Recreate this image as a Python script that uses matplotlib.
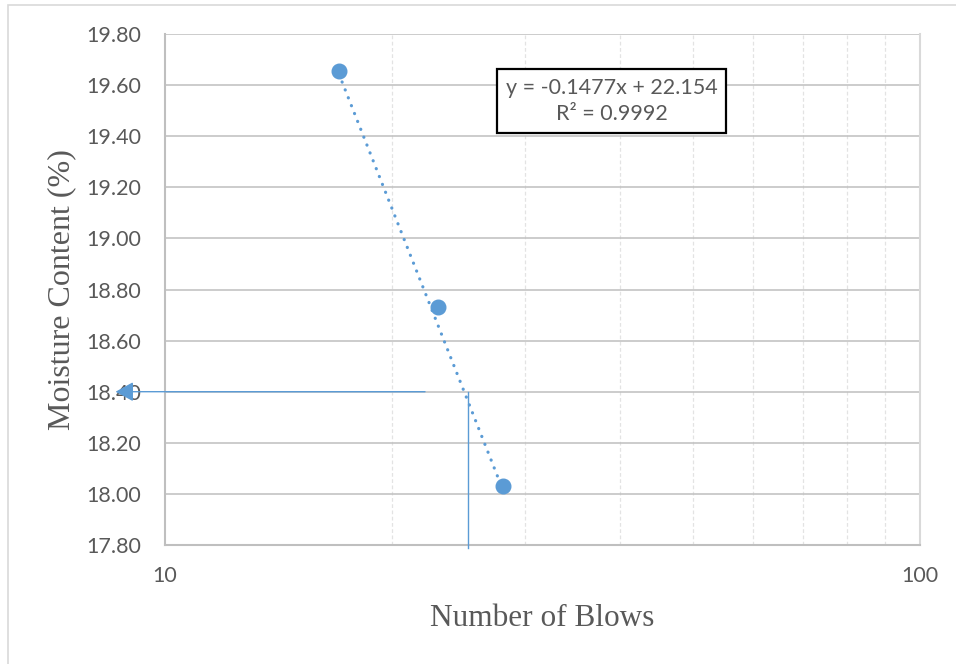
import matplotlib.pyplot as plt
from matplotlib.patches import Rectangle
from matplotlib.ticker import FixedLocator, NullFormatter, FuncFormatter

BLUE = "#5B9BD5"
GREY_TEXT = "#595959"

blows = [17, 23, 28]
moisture = [19.655, 18.73, 18.03]

slope = -0.1477
intercept = 22.154
trend_x = [17, 28]
trend_y = [slope * x + intercept for x in trend_x]

# reading of the liquid limit at 25 blows
target_mc = 18.40
target_blows = 25.2
arrow_from = 22.1
arrow_to = 8.6

y_ticks = [17.8, 18.0, 18.2, 18.4, 18.6, 18.8, 19.0, 19.2, 19.4, 19.6, 19.8]
x_ticks = [10, 100]
x_minor = [20, 30, 40, 50, 60, 70, 80, 90]

fig = plt.figure(figsize=(9.56, 6.64), dpi=100)
ax = fig.add_axes([165 / 956, 1 - 545 / 664, 755 / 956, 511 / 664])

# outer chart-area border (only top/left visible in the crop)
fig.patches.append(Rectangle((8 / 956, -0.1), 1.2, 1 - 5 / 664 + 0.1,
                             transform=fig.transFigure, fill=False,
                             edgecolor="#D9D9D9", linewidth=1.2))

ax.set_xscale("log")
ax.set_xlim(10, 100)
ax.set_ylim(17.8, 19.8)

ax.xaxis.set_major_locator(FixedLocator(x_ticks))
ax.xaxis.set_minor_locator(FixedLocator(x_minor))
ax.xaxis.set_major_formatter(FuncFormatter(lambda v, p: "%d" % v))
ax.xaxis.set_minor_formatter(NullFormatter())
ax.set_yticks(y_ticks)
ax.yaxis.set_major_formatter(FuncFormatter(lambda v, p: "%.2f" % v))

ax.grid(True, which="major", axis="y", color="#BFBFBF", linewidth=1.1)
ax.grid(True, which="major", axis="x", color="#D9D9D9", linewidth=1.1)
ax.grid(True, which="minor", axis="x", color="#E3E3E3", linewidth=0.9,
        linestyle=(0, (3, 2)))
ax.set_axisbelow(True)

for side in ["left", "bottom"]:
    ax.spines[side].set_color("#BFBFBF")
    ax.spines[side].set_linewidth(1.5)
ax.spines["right"].set_color("#D9D9D9")
ax.spines["right"].set_linewidth(1.5)
ax.spines["top"].set_visible(False)

ax.tick_params(which="both", length=0, labelsize=15.5, labelcolor=GREY_TEXT,
               labelfontfamily="Lato")
ax.tick_params(axis="y", pad=17)
ax.tick_params(axis="x", pad=15)

ax.plot(trend_x, trend_y, color=BLUE, linewidth=2.3,
        linestyle=(0, (0.05, 2.6)), dash_capstyle="round", zorder=3)
ax.plot(blows, moisture, "o", color=BLUE, markersize=10.5, zorder=4)

# lines for the 25 blow reading
ax.plot([target_blows, target_blows], [target_mc, 17.79], color=BLUE,
        linewidth=1.0, clip_on=False, zorder=3)
arrow = ax.annotate("", xy=(arrow_to, target_mc), xytext=(arrow_from, target_mc),
                    xycoords="data", textcoords="data", annotation_clip=False,
                    arrowprops=dict(arrowstyle="-|>,head_length=1.1,head_width=0.6",
                                    mutation_scale=10, color=BLUE, linewidth=1.0,
                                    shrinkA=0, shrinkB=0),
                    zorder=6)
arrow.arrow_patch.set_clip_on(False)

ax.text(0.592, 0.869, "y = -0.1477x + 22.154\nR² = 0.9992",
        transform=ax.transAxes, ha="center", va="center", fontsize=15.5,
        color=GREY_TEXT, family="Lato", linespacing=1.4, zorder=5,
        bbox=dict(boxstyle="square,pad=0.4", facecolor="white",
                  edgecolor="black", linewidth=1.6))

ax.set_xlabel("Number of Blows", family="Liberation Serif", fontsize=22.5,
              color=GREY_TEXT, labelpad=13)
ax.set_ylabel("Moisture Content (%)", family="Liberation Serif", fontsize=23,
              color=GREY_TEXT, labelpad=7)

fig.savefig("out.png", dpi=100)
